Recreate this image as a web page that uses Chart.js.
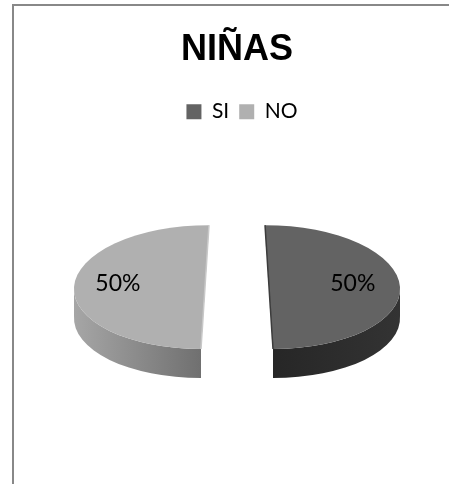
<!DOCTYPE html>
<html>
<head>
<meta charset="utf-8">
<style>
  html, body { margin: 0; background: #fff; overflow: hidden; }
  #frame { position: absolute; left: 12px; top: 4px; width: 437px; height: 480px; border-left: 2px solid #888; border-top: 2px solid #888; box-sizing: border-box; }
  #wrap { position: absolute; left: 0; top: 0; width: 449px; height: 484px; }
</style>
<script src="https://cdn.jsdelivr.net/npm/chart.js@4/dist/chart.umd.min.js"></script>
</head>
<body>
<div id="frame"></div>
<div id="wrap"><canvas id="pie" width="449" height="484"></canvas></div>
<script>
const categories = ['SI', 'NO']
const values = [50, 50]
const topColors = ['#636363', '#b0b0b0']
const sideColors = [['#262626', '#333333'], ['#a6a6a6', '#6e6e6e']]
const edgeColors = ['#3c3c3c', '#c8c8c8']
const labelFrac = [0.64, 0.665]

const squash = 0.473
const depth = 29
const lean = 0.0645
const explode = 32

// tilts the flat pie, each slice leans a bit so the gap opens to the front
function setFrame(ctx, arc, index, shiftY) {
    const sign = index === 0 ? 1 : -1
    const mid = (arc.startAngle + arc.endAngle) / 2
    ctx.setTransform(1, 0, 0, 1, 0, 0)
    ctx.translate(arc.x + Math.cos(mid) * explode, arc.y + shiftY)
    ctx.transform(1, 0, lean * sign, 1, 0, 0)
    ctx.scale(1, squash)
}

const tiltedPie = {
    id: 'tiltedPie',
    afterLayout(chart) {
        chart.legend.left += 5
        chart.legend.right += 5
    },
    beforeDatasetDraw(chart) {
        const ctx = chart.ctx
        const arcs = chart.getDatasetMeta(0).data
        arcs.forEach((arc, i) => {
            const mid = (arc.startAngle + arc.endAngle) / 2
            const R = arc.outerRadius
            const cx = arc.x + Math.cos(mid) * explode
            const from = Math.max(arc.startAngle, i === 0 ? 0 : Math.PI / 2)
            const to = Math.min(arc.endAngle, i === 0 ? Math.PI / 2 : Math.PI)

            ctx.save()
            // side wall
            ctx.beginPath()
            setFrame(ctx, arc, i, 0)
            ctx.arc(0, 0, R, from, to)
            setFrame(ctx, arc, i, depth)
            ctx.arc(0, 0, R, to, from, true)
            ctx.closePath()
            ctx.setTransform(1, 0, 0, 1, 0, 0)
            const grad = ctx.createLinearGradient(cx + (i === 0 ? 0 : -R), 0, cx + (i === 0 ? R : 0), 0)
            grad.addColorStop(0, sideColors[i][0])
            grad.addColorStop(1, sideColors[i][1])
            ctx.fillStyle = grad
            ctx.fill()

            // top face, arc.draw works in chart coordinates
            setFrame(ctx, arc, i, 0)
            ctx.translate(-arc.x, -arc.y)
            arc.draw(ctx)

            // thin cut edge
            setFrame(ctx, arc, i, 0)
            ctx.beginPath()
            ctx.moveTo(0, -R)
            ctx.lineTo(0, R)
            ctx.setTransform(1, 0, 0, 1, 0, 0)
            ctx.strokeStyle = edgeColors[i]
            ctx.lineWidth = 1.5
            ctx.stroke()
            ctx.restore()
        })
        return false
    },
    afterDatasetsDraw(chart) {
        const ctx = chart.ctx
        const arcs = chart.getDatasetMeta(0).data
        const total = values.reduce((a, b) => a + b, 0)
        ctx.save()
        ctx.font = '23px Lato'
        ctx.fillStyle = '#000'
        ctx.textAlign = 'center'
        ctx.textBaseline = 'middle'
        arcs.forEach((arc, i) => {
            const mid = (arc.startAngle + arc.endAngle) / 2
            const r = explode + arc.outerRadius * labelFrac[i]
            ctx.fillText(Math.round(values[i] / total * 100) + '%', arc.x + Math.cos(mid) * r, arc.y - 4)
        })
        ctx.restore()
    }
}

new Chart(document.getElementById('pie'), {
    type: 'pie',
    data: {
        labels: categories,
        datasets: [{
            data: values,
            backgroundColor: topColors,
            borderWidth: 0
        }]
    },
    options: {
        responsive: false,
        animation: false,
        radius: 131,
        layout: { padding: { left: 25, top: 28, bottom: 42 } },
        plugins: {
            title: {
                display: true,
                text: 'NIÑAS',
                color: '#000',
                font: { family: '"Liberation Sans"', size: 36, weight: 'bold' },
                padding: { top: 0, bottom: 20 }
            },
            legend: {
                position: 'top',
                labels: {
                    boxWidth: 15,
                    boxHeight: 15,
                    color: '#000',
                    font: { family: 'Lato', size: 21 },
                    padding: 10
                }
            },
            tooltip: { enabled: false }
        }
    },
    plugins: [tiltedPie]
})
</script>
</body>
</html>
